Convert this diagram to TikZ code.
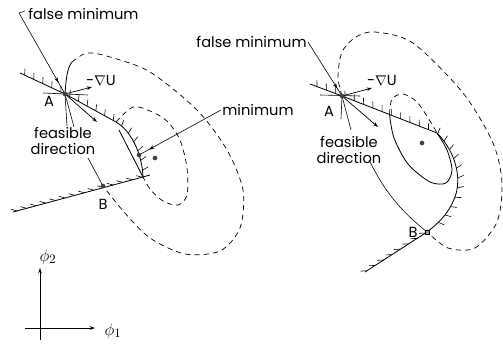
\documentclass[tikz,border=0pt]{standalone}
\usepackage{fontspec}
\setmainfont{Poppins}
\usetikzlibrary{arrows.meta, decorations.markings, calc, positioning}

\tikzset{
  cons/.style={line width=0.7pt,
    postaction={decorate, decoration={markings,
      mark=between positions 0.03 and 0.98 step 8.5pt with
        {\draw[line width=0.5pt] (0,0) -- (#1:5.5pt);}}}},
  cons/.default=112,
  plain/.style={line width=0.7pt},
  cont/.style={line width=0.6pt, dash pattern=on 4.5pt off 3.5pt},
  lead/.style={line width=0.5pt},
  midarr/.style={postaction={decorate, decoration={markings,
      mark=at position #1 with {\arrow{Stealth[length=4.5pt, width=3pt]}}}}},
  vec/.style={-{Stealth[length=4.5pt, width=3pt]}, line width=0.6pt},
  dotpt/.style={circle, fill=black!75, inner sep=0pt, minimum size=4pt},
  lbl/.style={font=\fontsize{12.5}{13.5}\selectfont, inner sep=1pt, align=center},
  axlbl/.style={font=\fontsize{15}{15}\selectfont, inner sep=1pt},
}

\begin{document}
\begin{tikzpicture}[x=0.3mm, y=-0.3mm]
\useasboundingbox (0,0) rectangle (503,345);

%% ── Left panel: points ───────────────────────────────────────────────────────
\coordinate (A1)   at ( 65, 94);
\coordinate (B1)   at (103,186);
\coordinate (K1)   at (143,177);
\coordinate (cm1)  at (139,155);
\coordinate (f1)   at ( 19, 13);
\coordinate (g1)   at ( 92, 87);
\coordinate (p1)   at ( 97,122);
\coordinate (fdl1) at ( 88,158);

%% ── Left panel: constraints ──────────────────────────────────────────────────
\draw[cons] (20,73) -- (A1) -- (116,122)
  .. controls (130,130) and (142,152) .. (K1);
\draw[cons=150] (13,212) -- (K1) -- ++(7,-2);
\draw[plain] (119,130) -- (K1);

%% ── Left panel: contours ─────────────────────────────────────────────────────
\draw[plain] (A1) .. controls (66,80) and (67,68) .. (72,62);
\draw[cont] plot[smooth] coordinates {(72,62) (87,53) (110,57) (150,72)
  (197,110) (227,150) (243,190) (240,228) (220,251) (185,254) (150,238)
  (124,212) (B1)};
\draw[cont] plot[smooth] coordinates {(116,122) (133,107) (150,111) (167,121)
  (180,140) (187,168) (187,195) (178,205) (163,201) (150,189) (K1)};

%% ── Left panel: vectors at A ─────────────────────────────────────────────────
\draw[lead] ($(A1)+(-22,-1)$) -- ($(A1)+(23,1)$);
\draw[vec] (A1) -- (g1);
\draw[vec] (A1) -- (p1);
\draw[lead] (A1) -- (67,126);
\draw[lead] (A1) -- (74,127);

%% ── Left panel: labels ───────────────────────────────────────────────────────
\node[lbl, anchor=west] (fmin1) at (27,14) {false minimum};
\draw[lead] (f1) -- ++(6,-2);
\draw[lead, midarr=0.86] (f1) -- (A1);
\node[lbl] (gl1) at (101,80) {-$\nabla$U};
\node[lbl] (la1) at (49,101) {A};
\node[lbl] (lb1) at (103,204) {B};
\node[lbl] (fd1) at (63,141) {feasible\\direction};
\draw[lead] (fdl1) -- (B1);
\node[lbl, anchor=west] (min1) at (221,110) {minimum};
\draw[lead, midarr=0.88] (min1.west) -- (cm1);

\node[dotpt] (dA1) at (A1) {};
\node[dotpt] (dB1) at (B1) {};
\node[dotpt] (dc1) at (cm1) {};
\node[dotpt] (dm1) at (155,158) {};

%% ── Right panel: points ──────────────────────────────────────────────────────
\coordinate (A2)   at (342, 96);
\coordinate (B2)   at (427,232);
\coordinate (K2)   at (437,133);
\coordinate (J2)   at ($(A2)!0.5!(K2)$);
\coordinate (g2)   at (372, 88);
\coordinate (p2)   at (378,127);
\coordinate (fdl2) at (369,160);

%% ── Right panel: constraints ─────────────────────────────────────────────────
\draw[cons] (310,84) -- (A2) -- (K2)
  .. controls (452,148) and (462,172) .. (456,194)
  .. controls (450,212) and (440,222) .. (B2);
\draw[cons=150] (365,272) -- (B2);

%% ── Right panel: contours ────────────────────────────────────────────────────
\draw[cont] plot[smooth] coordinates {(A2) (338,77) (342,52) (356,37) (375,32)
  (413,43) (463,93) (493,143) (502,183) (497,222) (475,248) (448,248) (B2)};
\draw[cont] plot[smooth] coordinates {(J2) (392,99) (403,94) (417,102)
  (430,121) (K2)};
\draw[plain] plot[smooth] coordinates {(K2) (447,150) (452,170) (446,183)
  (430,182) (408,164) (394,138) (J2)};

%% ── Right panel: vectors at A ────────────────────────────────────────────────
\draw[lead] ($(A2)+(-22,-1)$) -- ($(A2)+(18,0)$);
\draw[vec] (A2) -- (g2);
\draw[vec] (A2) -- (p2);
\draw[lead] (A2) -- (341,119);
\draw[lead] (A2) -- (351,130);

%% ── Right panel: labels ──────────────────────────────────────────────────────
\node[lbl, anchor=east] (fmin2) at (308,42) {false minimum};
\draw[lead, midarr=0.86] (fmin2.east) -- (A2);
\node[lbl] (gl2) at (382,80) {-$\nabla$U};
\node[lbl] (la2) at (329,111) {A};
\node[lbl] (lb2) at (413,232) {B};
\node[lbl] (fd2) at (349,150) {feasible\\direction};
\draw[lead] (fdl2) to[bend right=12] (B2);

\node[dotpt] (dA2) at (A2) {};
\node[draw, fill=black!40, inner sep=0pt, minimum size=3.6pt] (dB2) at (B2) {};
\node[dotpt] (dm2) at (422,143) {};

%% ── Axes ─────────────────────────────────────────────────────────────────────
\coordinate (o)  at (40,328);
\draw[vec] (40,340) -- (40,268);
\draw[vec] (25,328) -- (95,328);
\node[axlbl] (phi2) at (48,257) {$\phi_2$};
\node[axlbl] (phi1) at (113,331) {$\phi_1$};

\end{tikzpicture}
\end{document}
